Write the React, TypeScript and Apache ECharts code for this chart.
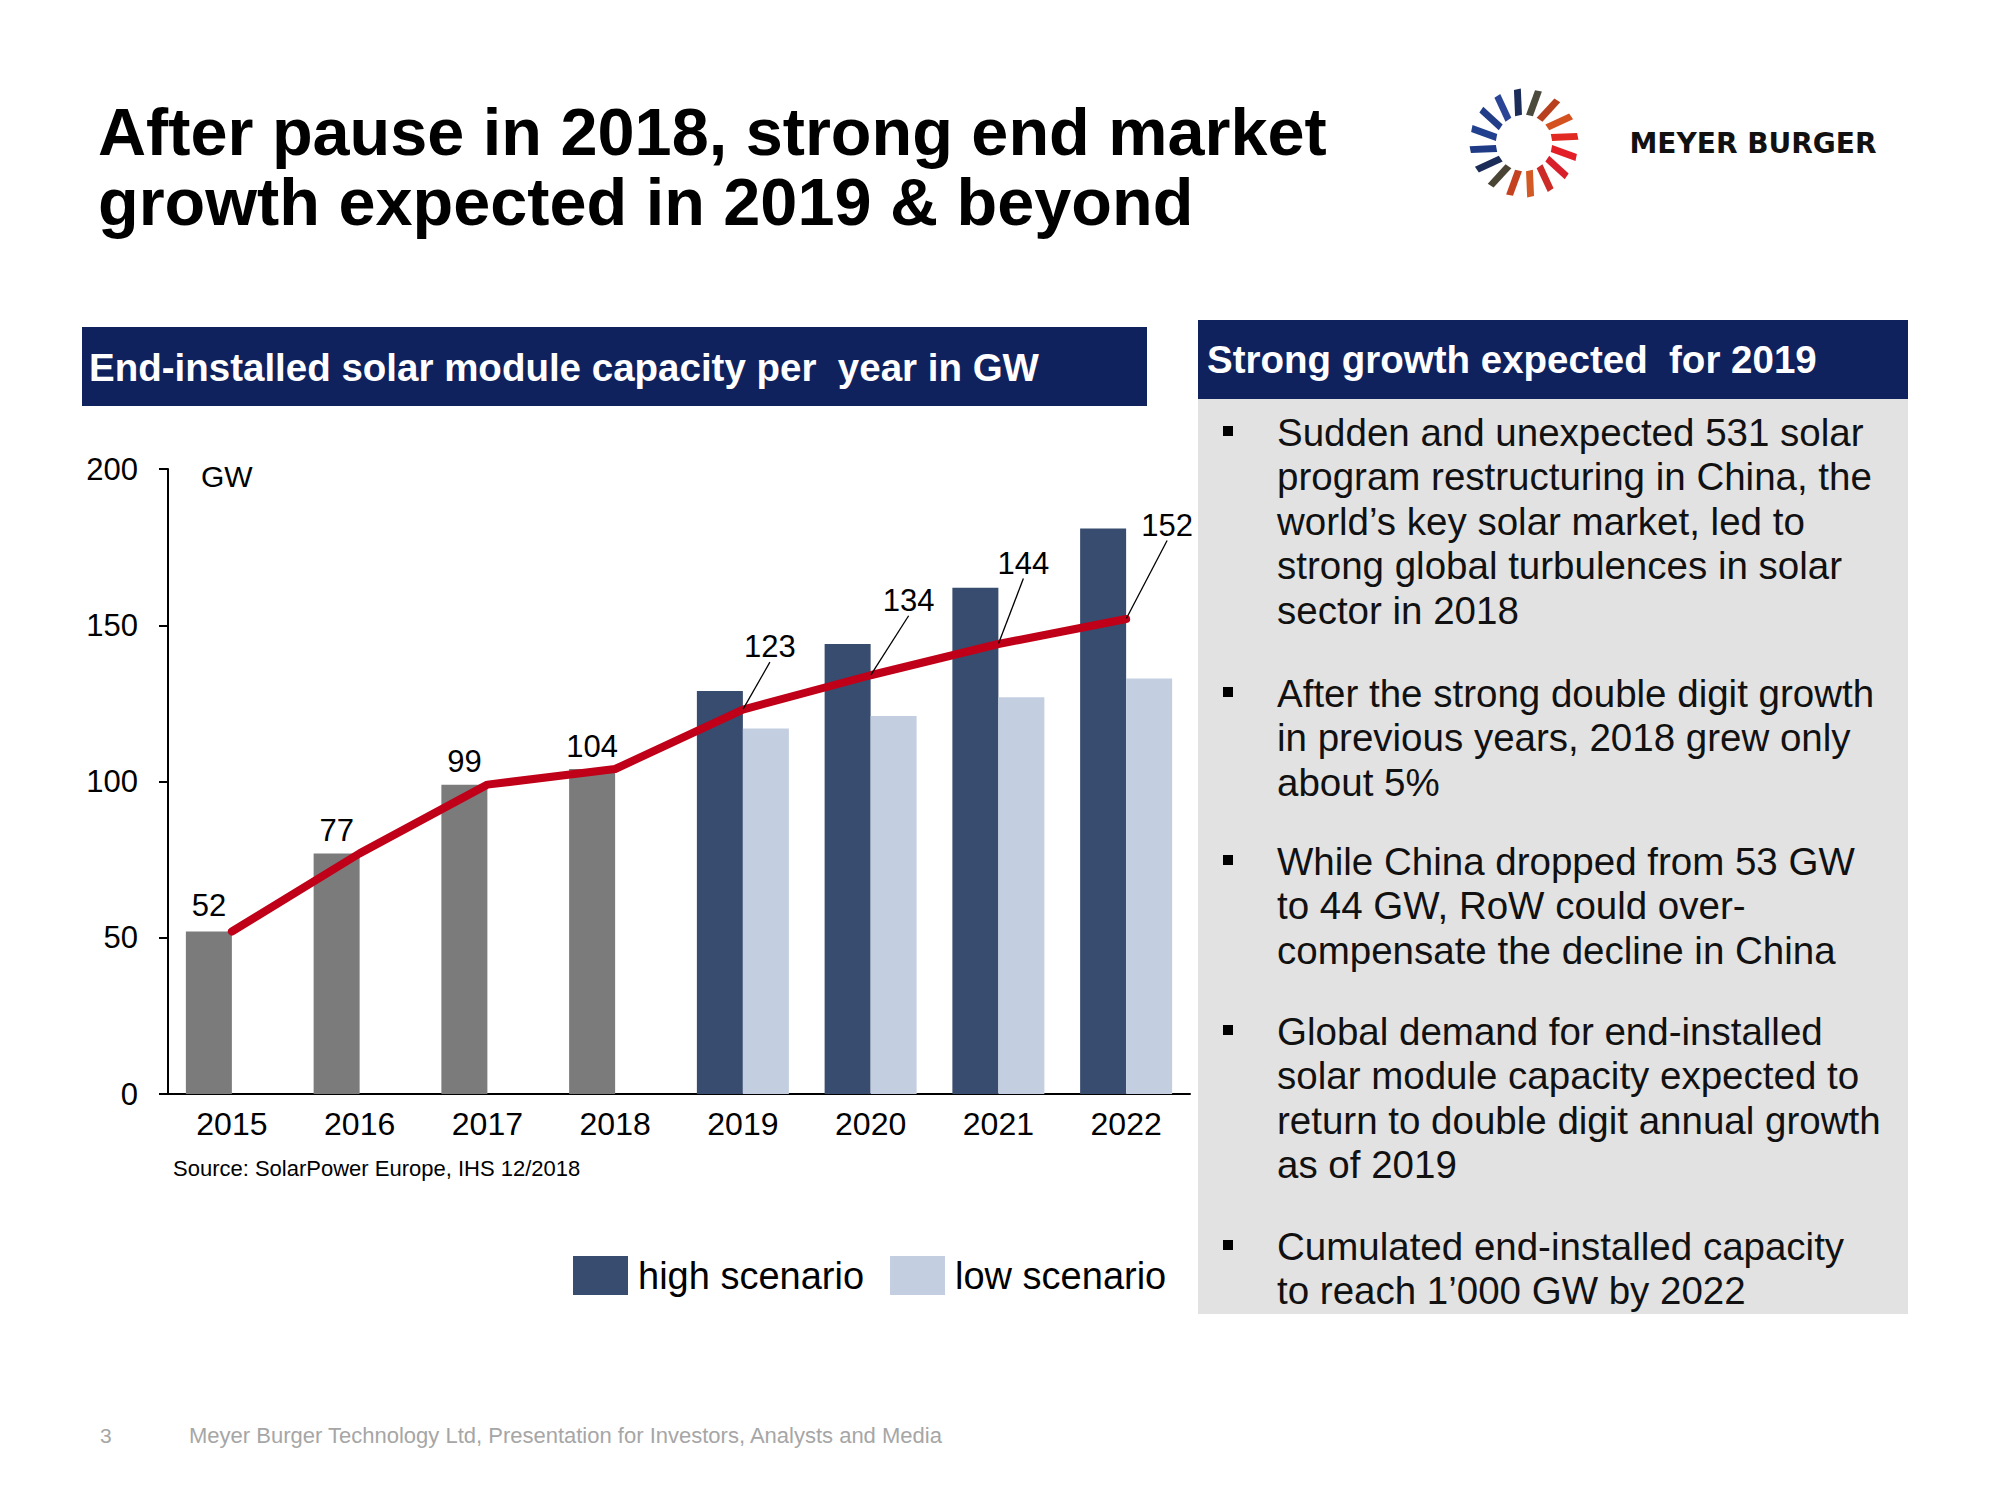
import React, { useEffect, useRef } from 'react';
import * as echarts from 'echarts';

// ---------- data ----------
const years = ['2015', '2016', '2017', '2018', '2019', '2020', '2021', '2022'];
const actualValues = [52, 77, 99, 104, null, null, null, null];
const highScenario = [null, null, null, null, 129, 144, 162, 181];
const lowScenario = [null, null, null, null, 117, 121, 127, 133];
const trendValues = [52, 77, 99, 104, 123, 134, 144, 152];
const yMin = 0;
const yMax = 200;
const yInterval = 50;

const titleLines = ['After pause in 2018, strong end market', 'growth expected in 2019 & beyond'];
const chartHeader = 'End-installed solar module capacity per  year in GW';
const panelHeader = 'Strong growth expected  for 2019';
const unitLabel = 'GW';
const sourceNote = 'Source: SolarPower Europe, IHS 12/2018';
const footerPage = '3';
const footerText = 'Meyer Burger Technology Ltd, Presentation for Investors, Analysts and Media';
const brandName = 'MEYER BURGER';
const bullets = [
  ['Sudden and unexpected 531 solar', 'program restructuring in China, the', 'world\u2019s key solar market, led to', 'strong global turbulences in solar', 'sector in 2018'],
  ['After the strong double digit growth', 'in previous years, 2018 grew only', 'about 5%'],
  ['While China dropped from 53 GW', 'to 44 GW, RoW could over-', 'compensate the decline in China'],
  ['Global demand for end-installed', 'solar module capacity expected to', 'return to double digit annual growth', 'as of 2019'],
  ['Cumulated end-installed capacity', 'to reach 1\u2019000 GW by 2022'],
];

// ---------- layout / style ----------
const FONT = 'Liberation Sans, Arial, sans-serif';
const NAVY = '#10225e';
const labelDX = [-23, -23, -23, -23, 27, 38, 25, 41];
const labelDY = [-26, -23, -23, -23, -63, -75, -81, -94];
const bulletTops = [432, 693, 861, 1031, 1246];
const bulletLineGap = 44.6;
const rayColors = [
  '#4b4a3c', '#b8401f', '#d4521f', '#e02a22', '#e41e26', '#d8202c', '#cc2b28', '#d35a24',
  '#c4421f', '#4a4434', '#1c2c58', '#1f3b86', '#21418f', '#213d88', '#2a4596', '#1d2d5a',
];

function logoRays() {
  const cx = 1524;
  const cy = 143;
  const r1 = 28;
  const r2 = 54;
  const w = 7;
  const tw = 4;
  return rayColors.map((color, k) => {
    const a = ((11.25 + 22.5 * k) * Math.PI) / 180;
    const dx = Math.sin(a);
    const dy = -Math.cos(a);
    const nx = Math.cos(a);
    const ny = Math.sin(a);
    const pts = [
      [cx + dx * r1 - nx * w / 2, cy + dy * r1 - ny * w / 2],
      [cx + dx * r1 + nx * w / 2, cy + dy * r1 + ny * w / 2],
      [cx + dx * r2 + nx * (w / 2 + tw), cy + dy * r2 + ny * (w / 2 + tw)],
      [cx + dx * r2 + nx * (-w / 2 + tw), cy + dy * r2 + ny * (-w / 2 + tw)],
    ];
    return { type: 'polygon', shape: { points: pts }, style: { fill: color }, silent: true };
  });
}

function textEl(text: string, x: number, y: number, size: number, color: string, weight = 'normal', align = 'left', family = FONT) {
  return {
    type: 'text',
    x,
    y,
    silent: true,
    style: {
      text,
      fill: color,
      font: `${weight} ${size}px ${family}`,
      textAlign: align,
      textVerticalAlign: 'middle',
    },
  };
}

function buildGraphics() {
  const els: any[] = [];
  // title
  titleLines.forEach((t, i) => els.push(textEl(t, 98, 132 + i * 70, 66.6, '#000', 'bold')));
  // logo
  els.push(...logoRays());
  els.push(textEl(brandName, 1753, 143, 28, '#111', 'bold', 'center', 'DejaVu Sans, sans-serif'));
  // chart header
  els.push({ type: 'rect', shape: { x: 82, y: 327, width: 1065, height: 79 }, style: { fill: NAVY }, silent: true });
  els.push(textEl(chartHeader, 89, 367, 38.5, '#fff', 'bold'));
  // right panel
  els.push({ type: 'rect', shape: { x: 1198, y: 399, width: 710, height: 915 }, style: { fill: '#e2e2e2' }, silent: true });
  els.push({ type: 'rect', shape: { x: 1198, y: 320, width: 710, height: 79 }, style: { fill: NAVY }, silent: true });
  els.push(textEl(panelHeader, 1207, 359, 38.5, '#fff', 'bold'));
  bullets.forEach((lines, bi) => {
    const top = bulletTops[bi];
    els.push({ type: 'rect', shape: { x: 1223, y: top - 6, width: 10, height: 10 }, style: { fill: '#000' }, silent: true });
    lines.forEach((ln, li) => els.push(textEl(ln, 1277, top + li * bulletLineGap, 38.5, '#111')));
  });
  // chart extras
  els.push(textEl(unitLabel, 201, 476, 30, '#000'));
  els.push(textEl(sourceNote, 173, 1168, 22, '#000'));
  // footer
  els.push(textEl(footerPage, 100, 1435, 21, '#a6a6a6'));
  els.push(textEl(footerText, 189, 1435, 22, '#a6a6a6'));
  return els;
}

export default function App() {
  const ref = useRef<HTMLDivElement>(null);
  useEffect(() => {
    if (!ref.current) return;
    const chart = echarts.init(ref.current, undefined, { renderer: 'svg' });
    const option: any = {
      animation: false,
      backgroundColor: '#fff',
      textStyle: { fontFamily: FONT },
      grid: { left: 168, right: 810, top: 469, bottom: 406, containLabel: false },
      legend: {
        data: ['high scenario', 'low scenario'],
        left: 573,
        top: 1256,
        padding: 0,
        icon: 'rect',
        itemWidth: 55,
        itemHeight: 39,
        itemGap: 26,
        selectedMode: false,
        textStyle: { fontSize: 38, color: '#000', fontFamily: FONT, padding: [0, 0, 0, 5] },
      },
      xAxis: {
        type: 'category',
        data: years,
        axisLine: { show: true, lineStyle: { color: '#000', width: 2 } },
        axisTick: { show: false },
        axisLabel: { fontSize: 32, color: '#000', margin: 14, fontFamily: FONT },
      },
      yAxis: {
        type: 'value',
        min: yMin,
        max: yMax,
        interval: yInterval,
        axisLine: { show: true, lineStyle: { color: '#000', width: 2 } },
        axisTick: { show: true, length: 9, lineStyle: { color: '#000', width: 2 } },
        splitLine: { show: false },
        axisLabel: { fontSize: 31, color: '#000', margin: 30, fontFamily: FONT },
      },
      series: [
        {
          name: 'actual',
          type: 'bar',
          stack: 'left',
          data: actualValues,
          barWidth: 46,
          barGap: '0%',
          itemStyle: { color: '#7b7b7b' },
        },
        {
          name: 'high scenario',
          type: 'bar',
          stack: 'left',
          data: highScenario,
          barWidth: 46,
          barGap: '0%',
          itemStyle: { color: '#374c6e' },
        },
        {
          name: 'low scenario',
          type: 'bar',
          data: lowScenario,
          barWidth: 46,
          barGap: '0%',
          itemStyle: { color: '#c3cfe1' },
        },
        {
          name: 'total',
          type: 'line',
          z: 5,
          data: trendValues.map((v, i) => ({ value: v, labelLine: { show: i >= 4 } })),
          symbol: 'circle',
          symbolSize: 1,
          showSymbol: true,
          itemStyle: { color: '#c00018' },
          lineStyle: { color: '#c00018', width: 8, cap: 'round', join: 'round' },
          label: { show: true, position: 'inside', fontSize: 31, color: '#000', fontFamily: FONT },
          labelLine: { show: true, lineStyle: { color: '#000', width: 1.3 } },
          labelLayout: (p: any) => ({ dx: labelDX[p.dataIndex], dy: labelDY[p.dataIndex] }),
        },
      ],
      graphic: buildGraphics(),
    };
    chart.setOption(option);
    return () => chart.dispose();
  }, []);
  return <div ref={ref} style={{ position: 'absolute', left: 0, top: 0, width: 2000, height: 1500 }} />;
}
